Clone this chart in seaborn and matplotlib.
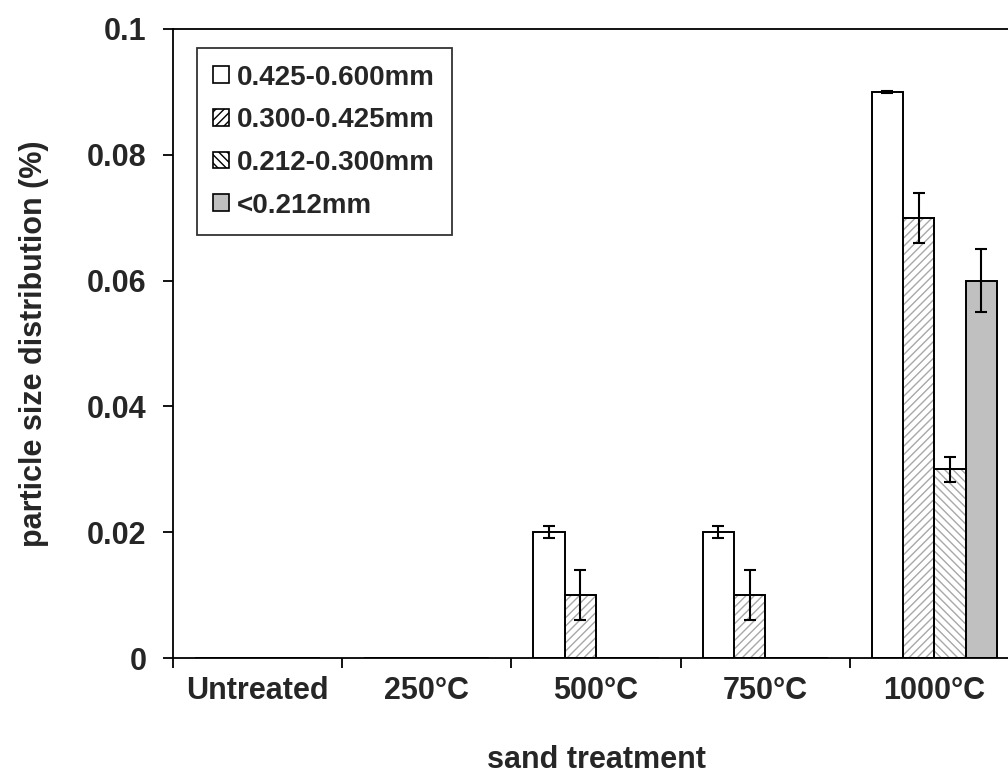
import numpy as np
import pandas as pd
import seaborn as sns
import matplotlib.pyplot as plt
import matplotlib.patches as mpatches

# categories on the x axis
treatments = ["Untreated", "250°C", "500°C", "750°C", "1000°C"]
# particle size classes (hue)
sizes = ["0.425-0.600mm", "0.300-0.425mm", "0.212-0.300mm", "<0.212mm"]

# particle size distribution (%) per treatment, one list per size class
frac_425_600 = [0, 0, 0.020, 0.020, 0.090]
frac_300_425 = [0, 0, 0.010, 0.010, 0.070]
frac_212_300 = [0, 0, 0, 0, 0.030]
frac_lt_212 = [0, 0, 0, 0, 0.060]

# error bars (nan = no bar)
err_425_600 = [np.nan, np.nan, 0.001, 0.001, 0.0002]
err_300_425 = [np.nan, np.nan, 0.004, 0.004, 0.004]
err_212_300 = [np.nan, np.nan, np.nan, np.nan, 0.002]
err_lt_212 = [np.nan, np.nan, np.nan, np.nan, 0.005]

yticks = [0, 0.02, 0.04, 0.06, 0.08, 0.1]
ytick_labels = ["0", "0.02", "0.04", "0.06", "0.08", "0.1"]

values = [frac_425_600, frac_300_425, frac_212_300, frac_lt_212]
errors = [err_425_600, err_300_425, err_212_300, err_lt_212]

rows = []
for s, vals in zip(sizes, values):
    for t, v in zip(treatments, vals):
        rows.append({"treatment": t, "size": s, "value": v})
df = pd.DataFrame(rows)

sns.set_style("ticks")
plt.rcParams["font.family"] = ["Liberation Sans", "DejaVu Sans"]
plt.rcParams["font.weight"] = "bold"
plt.rcParams["hatch.linewidth"] = 1.0

fills = ["white", "white", "white", "#c0c0c0"]
hatches = ["", "////", "\\\\\\\\", ""]
hatch_col = "#a8a8a8"

fig = plt.figure(figsize=(10.08, 7.73), dpi=100)
# axes run a bit past the right edge of the image, like the original
ax = fig.add_axes([173 / 1008, (773 - 658) / 773, (1019 - 173) / 1008, (658 - 29) / 773])

sns.barplot(data=df, x="treatment", y="value", hue="size", hue_order=sizes,
            palette=dict(zip(sizes, fills)), saturation=1, width=0.74,
            edgecolor="black", linewidth=1.4, errorbar=None, legend=False, ax=ax)

outline = []
for cont, h in zip(ax.containers, hatches):
    for bar in cont:
        if h:
            bar.set_hatch(h)
            if hasattr(bar, "set_hatchcolor"):
                bar.set_hatchcolor(hatch_col)
            else:
                bar.set_edgecolor(hatch_col)
                outline.append(bar)

# black outline on top where hatch colour had to borrow the edge colour
for bar in outline:
    ax.add_patch(mpatches.Rectangle(bar.get_xy(), bar.get_width(), bar.get_height(),
                                    fill=False, edgecolor="black", linewidth=1.4, zorder=bar.get_zorder() + 0.1))

for cont, vals, errs in zip(ax.containers, values, errors):
    xs = [b.get_x() + b.get_width() / 2 for b in cont]
    y = np.where(np.isnan(errs), np.nan, vals)
    ax.errorbar(xs, y, yerr=errs, fmt="none", ecolor="black", elinewidth=1.5,
                capsize=4.5, capthick=1.5, zorder=5)

ax.set_xlim(-0.5, 4.5)
ax.set_ylim(0, 0.1)
ax.set_yticks(yticks, ytick_labels)
ax.set_xticks(range(len(treatments)), treatments)
ax.set_xticks(np.arange(-0.5, len(treatments)), minor=True)
ax.tick_params(axis="x", which="major", length=0, pad=13, labelsize=22)
ax.tick_params(axis="x", which="minor", length=7, width=1.3, direction="out", color="black")
ax.tick_params(axis="y", length=7, width=1.3, direction="out", pad=12, labelsize=22, color="black")

for sp in ax.spines.values():
    sp.set_color("black")
    sp.set_linewidth(1.3)

ax.set_xlabel("sand treatment", fontsize=22, fontweight="bold", labelpad=28)
ax.set_ylabel("particle size distribution (%)", fontsize=22, fontweight="bold", labelpad=27)

handles = [mpatches.Patch(facecolor=f, edgecolor="black", hatch=h, linewidth=1.2)
           for f, h in zip(fills, hatches)]
leg = ax.legend(handles, sizes, loc="upper left", bbox_to_anchor=(0.028, 0.97),
                borderaxespad=0, fontsize=20, frameon=True, fancybox=False,
                handlelength=0.55, handleheight=0.55, handletextpad=0.3,
                labelspacing=0.6, borderpad=0.6)
leg.get_frame().set_edgecolor("black")
leg.get_frame().set_linewidth(1.3)
for txt in leg.get_texts():
    txt.set_fontweight("bold")
for lh, h in zip(leg.legend_handles, hatches):
    if h and hasattr(lh, "set_hatchcolor"):
        lh.set_hatchcolor(hatch_col)

fig.savefig("out.png", dpi=100)
